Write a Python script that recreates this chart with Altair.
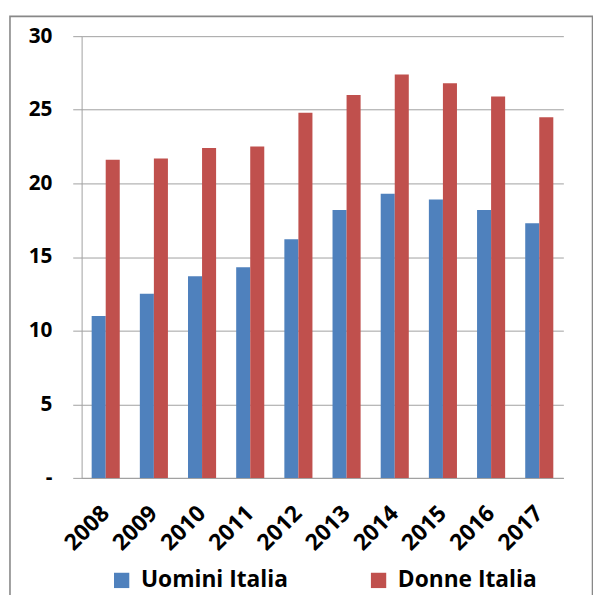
import altair as alt
import pandas as pd

anni = ["2008", "2009", "2010", "2011", "2012", "2013", "2014", "2015", "2016", "2017"]
uomini = [11.0, 12.5, 13.7, 14.3, 16.2, 18.2, 19.3, 18.9, 18.2, 17.3]
donne = [21.6, 21.7, 22.4, 22.5, 24.8, 26.0, 27.4, 26.8, 25.9, 24.5]
serie = ["Uomini Italia", "Donne Italia"]
colori = ["#4F81BD", "#C0504D"]

rows = []
for a, u, d in zip(anni, uomini, donne):
    rows.append({"anno": a, "serie": serie[0], "valore": u})
    rows.append({"anno": a, "serie": serie[1], "valore": d})
df = pd.DataFrame(rows)

FONT = "Open Sans"
GRID = "#a0a0a0"

bars = alt.Chart(df).mark_bar(strokeWidth=0).encode(
    x=alt.X(
        "anno:N",
        sort=anni,
        title=None,
        scale=alt.Scale(paddingInner=0.417, paddingOuter=0.2085),
        axis=alt.Axis(
            labelAngle=-45,
            labelAlign="right",
            labelBaseline="middle",
            labelFont=FONT,
            labelFontWeight="bold",
            labelFontSize=23,
            labelColor="black",
            labelPadding=32,
            labelOverlap=False,
            ticks=False,
            domainColor=GRID,
            domainWidth=1,
        ),
    ),
    xOffset=alt.XOffset("serie:N", sort=serie, scale=alt.Scale(domain=serie)),
    y=alt.Y(
        "valore:Q",
        title=None,
        scale=alt.Scale(domain=[0, 30], nice=False, zero=True),
        axis=alt.Axis(
            values=[0, 5, 10, 15, 20, 25, 30],
            labelExpr="datum.value == 0 ? '-' : datum.label",
            labelFont=FONT,
            labelFontWeight="bold",
            labelFontSize=21,
            labelColor="black",
            labelPadding=21,
            tickSize=9,
            tickColor=GRID,
            tickWidth=1,
            domainColor=GRID,
            domainWidth=1,
            grid=True,
            gridColor=GRID,
            gridWidth=1,
        ),
    ),
    color=alt.Color(
        "serie:N",
        sort=serie,
        scale=alt.Scale(domain=serie, range=colori),
        legend=alt.Legend(
            title=None,
            orient="none",
            direction="horizontal",
            legendX=29,
            legendY=539,
            symbolType="square",
            symbolSize=240,
            symbolStrokeWidth=0,
            symbolOpacity=1,
            labelFont=FONT,
            labelFontWeight="bold",
            labelFontSize=23,
            labelColor="black",
            labelOffset=8,
            labelLimit=400,
            columnPadding=80,
        ),
    ),
)

frame = alt.Chart(pd.DataFrame({"k": [0]})).mark_rect(
    fill="white", fillOpacity=0, stroke="#888888", strokeWidth=1.6
).encode(
    x=alt.value(-72.5),
    x2=alt.value(517),
    y=alt.value(-20),
    y2=alt.value(575),
)

chart = (
    alt.layer(frame, bars)
    .properties(
        width=487.5,
        height=447,
        autosize=alt.AutoSizeParams(type="none"),
        padding={"left": 74.5, "top": 25, "right": 30, "bottom": 115},
        background="white",
    )
    .configure_view(stroke=None)
)

chart.save("out.html", embed_options={"renderer": "svg", "actions": False})
